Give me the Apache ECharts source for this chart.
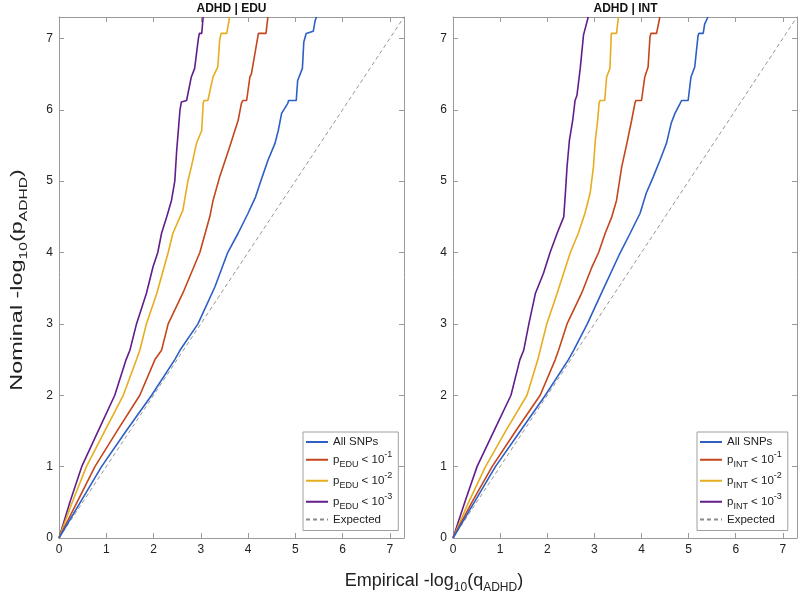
<!DOCTYPE html>
<html>
<head>
<meta charset="utf-8">
<script src="https://cdn.jsdelivr.net/npm/echarts@6/dist/echarts.min.js"></script>
<style>
html,body{margin:0;padding:0;background:#fff;}
#chart{width:800px;height:599px;}
</style>
</head>
<body>
<div id="chart"></div>
<script>
// ---- data: [empirical -log10(q), nominal -log10(p)] ----
var panelTitles = ['ADHD | EDU', 'ADHD | INT'];
var condLabels = ['EDU', 'INT'];
var legendThresholds = ['-1', '-2', '-3'];
var tickValues = [0, 1, 2, 3, 4, 5, 6, 7];
var axisMax = 7.3;

var allEDU = [[0,0],[0.45,0.5],[0.9,1],[1.42,1.5],[1.96,2],[2.45,2.5],[2.56,2.63],[2.94,3.0],[3.3,3.52],[3.57,4.0],[3.79,4.27],[4.0,4.55],[4.16,4.78],[4.3,5.06],[4.42,5.29],[4.57,5.53],[4.64,5.71],[4.71,5.95],[4.84,6.09],[4.86,6.13],[5.02,6.13],[5.05,6.41],[5.15,6.58],[5.18,6.95],[5.23,7.07],[5.38,7.1],[5.42,7.25],[5.45,7.3]];
var edu1 = [[0,0],[0.38,0.5],[0.76,1],[1.23,1.5],[1.71,2],[2.03,2.5],[2.17,2.63],[2.31,3.0],[2.62,3.43],[2.98,4.0],[3.19,4.5],[3.26,4.73],[3.40,5.06],[3.47,5.2],[3.61,5.48],[3.79,5.85],[3.86,6.09],[3.89,6.13],[3.97,6.13],[4.04,6.46],[4.07,6.5],[4.18,6.92],[4.22,7.07],[4.38,7.07],[4.42,7.3]];
var edu2 = [[0,0],[0.28,0.5],[0.58,1],[0.97,1.5],[1.36,2],[1.64,2.5],[1.71,2.63],[1.85,3.0],[2.07,3.43],[2.31,4.0],[2.41,4.27],[2.62,4.59],[2.73,5.01],[2.80,5.2],[2.91,5.53],[3.02,5.71],[3.05,6.09],[3.07,6.13],[3.15,6.13],[3.26,6.46],[3.36,6.6],[3.40,6.98],[3.43,7.07],[3.55,7.07],[3.61,7.3]];
var edu3 = [[0,0],[0.23,0.5],[0.48,1],[0.83,1.5],[1.18,2],[1.42,2.5],[1.50,2.63],[1.64,3.0],[1.85,3.43],[1.99,3.80],[2.09,4.0],[2.17,4.27],[2.28,4.5],[2.38,4.73],[2.45,5.0],[2.49,5.43],[2.52,5.67],[2.56,6.0],[2.59,6.11],[2.70,6.13],[2.80,6.46],[2.87,6.58],[2.95,7.0],[2.97,7.07],[3.02,7.07],[3.05,7.3]];

var allINT = [[0,0],[0.45,0.5],[0.90,1],[1.43,1.5],[1.96,2],[2.45,2.5],[2.56,2.63],[2.85,3.0],[3.15,3.43],[3.55,4.0],[3.76,4.27],[3.97,4.55],[4.10,4.83],[4.25,5.06],[4.39,5.29],[4.53,5.53],[4.63,5.81],[4.71,5.95],[4.82,6.09],[4.85,6.13],[4.99,6.13],[5.05,6.46],[5.13,6.6],[5.20,7.04],[5.22,7.07],[5.31,7.07],[5.34,7.2],[5.41,7.3]];
var int1 = [[0,0],[0.40,0.5],[0.83,1],[1.33,1.5],[1.85,2],[2.17,2.5],[2.24,2.63],[2.42,3.0],[2.73,3.43],[2.95,3.80],[3.09,4.0],[3.23,4.27],[3.37,4.5],[3.47,4.73],[3.58,5.2],[3.69,5.53],[3.79,5.85],[3.86,6.09],[3.88,6.13],[4.0,6.13],[4.07,6.46],[4.14,6.6],[4.18,7.02],[4.2,7.07],[4.32,7.07],[4.39,7.3]];
var int2 = [[0,0],[0.33,0.5],[0.69,1],[1.12,1.5],[1.57,2],[1.80,2.5],[1.85,2.63],[1.99,3.0],[2.21,3.43],[2.49,4.0],[2.66,4.27],[2.80,4.55],[2.91,4.83],[2.98,5.2],[3.02,5.57],[3.07,5.85],[3.10,6.09],[3.12,6.13],[3.22,6.13],[3.26,6.46],[3.33,6.58],[3.36,7.07],[3.47,7.07],[3.51,7.3]];
var int3 = [[0,0],[0.25,0.5],[0.51,1],[0.87,1.5],[1.23,2],[1.42,2.5],[1.50,2.63],[1.61,3.0],[1.75,3.43],[1.92,3.71],[2.06,4.0],[2.21,4.27],[2.35,4.5],[2.38,4.78],[2.42,5.2],[2.47,5.57],[2.54,5.85],[2.59,6.13],[2.63,6.2],[2.70,6.58],[2.73,6.6],[2.77,7.05],[2.80,7.07],[2.87,7.3]];

var expected = [[0,0],[7.3,7.3]];

var panelSeries = [[allEDU, edu1, edu2, edu3], [allINT, int1, int2, int3]];

// ---- styles ----
var colors = ['#2d5fc6', '#c4461c', '#e6ad1f', '#621d8c'];
var FONT = '"Liberation Sans", Arial, Helvetica, sans-serif';
var axisGray = '#9a9a9a';
var grids = [
  {left: 59, top: 17, width: 345, height: 521},
  {left: 453, top: 17, width: 345, height: 521}
];

var chart = echarts.init(document.getElementById('chart'), null, {renderer: 'canvas'});

function mkAxis(gi, pos, showLabel, margin) {
  return {
    type: 'value', gridIndex: gi, position: pos, min: 0, max: axisMax, interval: 1,
    axisLine: {show: true, onZero: false, lineStyle: {color: axisGray, width: 1}},
    axisTick: {show: true, inside: true, length: 5, lineStyle: {color: axisGray}},
    axisLabel: {show: showLabel, color: '#222', fontSize: 12, fontFamily: FONT, margin: margin,
      formatter: function (v) { return tickValues.indexOf(v) >= 0 ? String(v) : ''; }},
    splitLine: {show: false}
  };
}

var xAxes = [], yAxes = [], series = [], legends = [], graphics = [];
var legendRich = {
  t: {fontSize: 11.5, fontFamily: FONT, color: '#222', lineHeight: 18.5, verticalAlign: 'middle'},
  e: {fontSize: 11.5, fontFamily: FONT, color: '#222', lineHeight: 10, verticalAlign: 'middle'},
  s: {fontSize: 9, fontFamily: FONT, color: '#222', lineHeight: 9, verticalAlign: 'bottom'},
  u: {fontSize: 9, fontFamily: FONT, color: '#222', lineHeight: 9, verticalAlign: 'top'}
};

for (var g = 0; g < 2; g++) {
  xAxes.push(mkAxis(g, 'bottom', true, 6));
  xAxes.push(mkAxis(g, 'top', false, 6));
  yAxes.push(mkAxis(g, 'left', true, 6));
  yAxes.push(mkAxis(g, 'right', false, 6));
  var names = [];
  var labelMap = {};
  for (var k = 0; k < 4; k++) {
    var nm = condLabels[g] + '_' + k;
    names.push(nm);
    labelMap[nm] = k === 0 ? '{t|All SNPs}' :
      '{t|p}{s|' + condLabels[g] + '}{t| < 10}{u|' + legendThresholds[k - 1] + '}';
    series.push({
      type: 'line', name: nm, xAxisIndex: g * 2, yAxisIndex: g * 2,
      data: panelSeries[g][k], showSymbol: false, symbol: 'none',
      lineStyle: {color: colors[k], width: 1.6}, itemStyle: {color: colors[k]},
      z: 3 + (3 - k), silent: true, animation: false
    });
  }
  var en = 'Expected_' + g;
  names.push(en);
  labelMap[en] = '{e|Expected}';
  series.push({
    type: 'line', name: en, xAxisIndex: g * 2, yAxisIndex: g * 2,
    data: expected, showSymbol: false, symbol: 'none',
    lineStyle: {color: '#8a8a8a', width: 0.9, type: [4, 3]}, itemStyle: {color: '#8a8a8a'},
    z: 2, silent: true, animation: false
  });
  (function (map) {
    legends.push({
      data: names, orient: 'vertical',
      left: grids[g].left + 244, top: 432,
      backgroundColor: '#fff', borderColor: '#a0a0a0', borderWidth: 1,
      padding: [4, 6, 5, 2], itemGap: 2.5, itemWidth: 22, itemHeight: 10,
      itemStyle: {opacity: 0, borderWidth: 0},
      selectedMode: false,
      textStyle: {rich: legendRich, fontFamily: FONT, fontSize: 11.5, color: '#222'},
      formatter: function (n) { return map[n]; }
    });
  })(labelMap);
  graphics.push({
    type: 'text', x: grids[g].left + grids[g].width / 2, y: 9,
    style: {text: panelTitles[g], font: 'bold 12px ' + FONT, fill: '#111', align: 'center', verticalAlign: 'middle'}
  });
}

var titleRich = {
  a: {fontSize: 18, fontFamily: FONT, fill: '#222', lineHeight: 26, verticalAlign: 'middle'},
  s: {fontSize: 12, fontFamily: FONT, fill: '#222', lineHeight: 12, verticalAlign: 'bottom'}
};
graphics.push({
  type: 'text', x: 434, y: 581,
  style: {text: '{a|Empirical -log}{s|10}{a|(q}{s|ADHD}{a|)}', rich: titleRich,
    align: 'center', verticalAlign: 'middle'}
});
graphics.push({
  type: 'text', x: 18, y: 280, rotation: Math.PI / 2, scaleX: 1.3, scaleY: 0.88,
  style: {text: '{a|Nominal -log}{s|10}{a|(p}{s|ADHD}{a|)}', rich: titleRich,
    align: 'center', verticalAlign: 'middle'}
});

chart.setOption({
  animation: false,
  backgroundColor: '#fff',
  grid: grids,
  xAxis: xAxes,
  yAxis: yAxes,
  legend: legends,
  series: series,
  graphic: graphics
});
</script>
</body>
</html>
